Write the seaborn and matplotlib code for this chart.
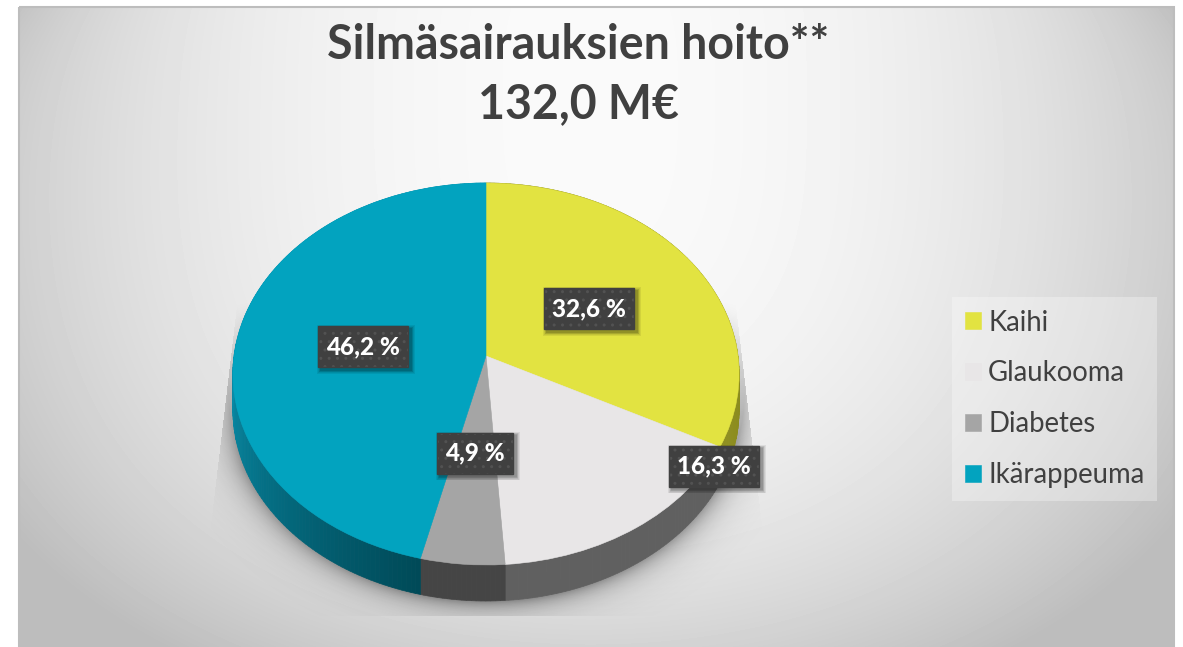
import numpy as np
import matplotlib
matplotlib.use("Agg")
import matplotlib.pyplot as plt
import seaborn as sns
from matplotlib.patches import Rectangle
from matplotlib.transforms import Transform

# Data
categories = ["Kaihi", "Glaukooma", "Diabetes", "Ikärappeuma"]
shares = [32.6, 16.3, 4.9, 46.2]
share_labels = ["32,6 %", "16,3 %", "4,9 %", "46,2 %"]
title_lines = ["Silmäsairauksien hoito**", "132,0 M€"]

# Styles
top_colors = ["#E2E341", "#E8E6E7", "#A5A5A5", "#02A3BF"]
label_centers = [(589, 308.5), (714, 466), (475, 453), (363, 346.5)]

sns.set_theme(style="white")
plt.rcParams["font.family"] = ["Lato", "DejaVu Sans"]
plt.rcParams["hatch.linewidth"] = 1.0

W, H = 1183, 647
fig = plt.figure(figsize=(W / 100, H / 100), dpi=100, facecolor="white")
ax = fig.add_axes([0, 0, 1, 1])


class Tilt(Transform):
    # kallistettu ympyra -> kuvapisteet
    input_dims = 2
    output_dims = 2
    is_separable = False
    has_inverse = False

    def __init__(self, cx=486, cy=356, dx=252, dy=189.3, a=0.0942, shift=0):
        super().__init__()
        self.cx, self.cy, self.dx, self.dy, self.a, self.shift = cx, cy, dx, dy, a, shift

    def transform_non_affine(self, values):
        values = np.asarray(values, dtype=float)
        u, v = values[:, 0], values[:, 1]
        w = 1 + self.a * v
        return np.column_stack([self.cx + self.dx * u / w,
                                self.cy - self.dy * v / w + self.shift])


wedges, _ = ax.pie(shares, colors=top_colors, startangle=90, counterclock=False,
                   radius=1, wedgeprops=dict(linewidth=0.4))
for w, c in zip(wedges, top_colors):
    w.set_edgecolor(c)
    w.set_transform(Tilt() + ax.transData)
    w.set_zorder(5)

ax.set_aspect("auto")
ax.set_xlim(0, W)
ax.set_ylim(H, 0)
ax.axis("off")

# Tausta
yy, xx = np.mgrid[0:H, 0:W]
rx = np.abs(xx - 590) / 575.0
ry = np.abs(yy - 100) / 540.0
tone = 250 - 42 * rx ** 2 - 37 * ry ** 3 - 14 * rx ** 6 * np.exp(-(yy - 7) / 60.0)
bg = np.clip(tone, 189, 252) / 255.0
panel = ax.imshow(bg, cmap="gray", vmin=0, vmax=1, extent=(0, W, H, 0), aspect="auto", zorder=0)
border = Rectangle((19, 7), 1155, 645, facecolor="none", edgecolor="#BDBDBD", linewidth=1.5, zorder=1)
ax.add_patch(border)
panel.set_clip_path(border)

# Varjo piirakan alla
ex = (xx - 486) / 258.0
ey = (yy - 392) / 209.0
d = (np.sqrt(ex ** 2 + ey ** 2) - 1) * 220
alpha = 0.38 * np.exp(-np.clip(d, 0, None) / 12.0)
alpha *= np.clip((yy - 300) / 170.0, 0, 1)
reach = (yy - 310) * 19 / 160.0
alpha[(xx < 236 - reach) | (xx > 736 + reach) | (yy > 615)] = 0
shadow = np.zeros((H, W, 4))
shadow[..., 3] = alpha
ax.imshow(shadow, extent=(0, W, H, 0), aspect="auto", zorder=2)

# Reuna
edges = 90 - 3.6 * np.concatenate([[0], np.cumsum(shares)])
tilt_top = Tilt()
tilt_low = Tilt(shift=36)


def side_color(i, t):
    if i == 0:
        a, b = np.array([0x70, 0x70, 0x18]), np.array([0x90, 0x90, 0x20])
    elif i == 1:
        a, b = np.array([0x60, 0x60, 0x60]), np.array([0x60, 0x60, 0x60])
    elif i == 2:
        a, b = np.array([0x45, 0x45, 0x45]), np.array([0x45, 0x45, 0x45])
    else:
        a, b = np.array([0x00, 0x4A, 0x58]), np.array([0x08, 0x8E, 0xAA])
    return tuple((a + (b - a) * t) / 255.0)


for i in range(len(shares)):
    angles = np.arange(edges[i], edges[i + 1], -1.0)
    angles = np.append(angles, edges[i + 1])
    for j in range(len(angles) - 1):
        pair = np.radians(angles[j:j + 2])
        rim = np.column_stack([np.cos(pair), np.sin(pair)])
        upper = tilt_top.transform_non_affine(rim)
        lower = tilt_low.transform_non_affine(rim)[::-1]
        quad = np.vstack([upper, lower])
        t = j / max(len(angles) - 2, 1)
        if i == 3:
            t = min(1, t * 166.3 / 76.3)
        c = side_color(i, t)
        ax.fill(quad[:, 0], quad[:, 1], color=c, linewidth=0.5, zorder=3)

# Otsikko
ax.text(578, 75, "\n".join(title_lines), ha="center", va="center", fontsize=33.5,
        fontweight="bold", color="#404040", linespacing=1.42, zorder=8)

# Arvolaatikot
box_w, box_h = 90, 41
for lab, (cx, cy) in zip(share_labels, label_centers):
    w = box_w if len(lab) > 5 else 76
    for k in range(6, 0, -1):
        ax.add_patch(Rectangle((cx - w / 2 + 3 - k * 0.6, cy - box_h / 2 + 3 - k * 0.6),
                               w + k * 1.2, box_h + k * 1.2, facecolor="black",
                               alpha=0.07, linewidth=0, zorder=6))
    ax.add_patch(Rectangle((cx - w / 2, cy - box_h / 2), w, box_h, facecolor="#404040",
                           edgecolor="#525252", hatch="..", linewidth=0, zorder=7))
    ax.add_patch(Rectangle((cx - w / 2, cy - box_h / 2), w, box_h, facecolor="none",
                           edgecolor="#404040", linewidth=1, zorder=7))
    ax.text(cx, cy, lab, ha="center", va="center", color="white", fontsize=17.5,
            fontweight="black", zorder=8)

# Selite
leg = ax.legend(wedges, categories, loc="upper left", bbox_to_anchor=(952, 297),
                bbox_transform=ax.transData, borderaxespad=0, fontsize=19.8,
                handlelength=0.58, handleheight=0.58, handletextpad=0.27,
                labelspacing=0.9, borderpad=0.46, fancybox=False,
                facecolor="white", edgecolor="none", framealpha=0.3,
                labelcolor="#404040")
leg.set_zorder(8)

fig.savefig("out.png", dpi=100)
